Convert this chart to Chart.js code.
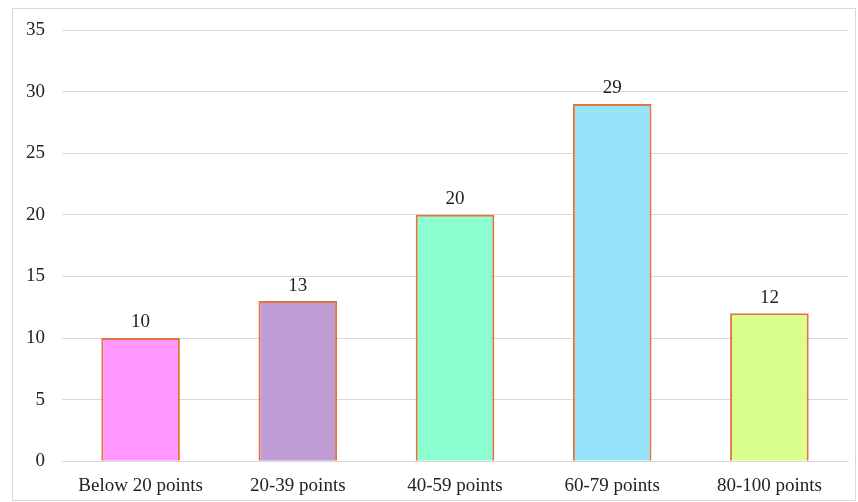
<!DOCTYPE html>
<html>
<head>
<meta charset="utf-8">
<script src="https://cdn.jsdelivr.net/npm/chart.js@4"></script>
<style>
  body { margin: 0; background: #fff; }
  #box { position: absolute; left: 12px; top: 8px; width: 842px; height: 491px; border: 1px solid #d9d9d9; }
</style>
</head>
<body>
<div id="box"><canvas id="scoreChart"></canvas></div>
<script>
var categories = ['Below 20 points', '20-39 points', '40-59 points', '60-79 points', '80-100 points'];
var counts = [10, 13, 20, 29, 12];
var yTicks = [0, 5, 10, 15, 20, 25, 30, 35];

var fillColors = ['rgba(255,140,255,0.9)', 'rgba(183,148,207,0.9)', 'rgba(128,255,204,0.9)', 'rgba(140,224,250,0.9)', 'rgba(214,255,128,0.9)'];

// draws the value above each bar
var valueLabels = {
  id: 'valueLabels',
  afterDatasetsDraw: function(chart){
    var ctx = chart.ctx;
    var meta = chart.getDatasetMeta(0);
    ctx.save();
    ctx.font = '19px "Liberation Serif"';
    ctx.fillStyle = '#222';
    ctx.textAlign = 'center';
    ctx.textBaseline = 'bottom';
    meta.data.forEach(function(bar, i){
      ctx.fillText(counts[i], bar.x, bar.y - 6);
    });
    ctx.restore();
  }
};

new Chart(document.getElementById('scoreChart'), {
  type: 'bar',
  data: {
    labels: categories,
    datasets: [{
      data: counts,
      backgroundColor: fillColors,
      borderColor: '#e3753a',
      borderWidth: 2,
      barPercentage: 0.5,
      categoryPercentage: 1
    }]
  },
  options: {
    responsive: true,
    maintainAspectRatio: false,
    animation: false,
    layout: { padding: { left: -4, right: 7, top: 21, bottom: -10 } },
    plugins: {
      legend: { display: false },
      tooltip: { enabled: false }
    },
    scales: {
      x: {
        grid: { display: false, drawTicks: false },
        border: { color: '#d9d9d9' },
        ticks: { color: '#222', font: { family: 'Liberation Serif', size: 19 }, padding: 13 }
      },
      y: {
        min: 0,
        max: 35,
        afterBuildTicks: function(axis){ axis.ticks = yTicks.map(function(v){ return {value: v}; }); },
        afterFit: function(axis){ axis.paddingTop = 0; },
        grid: { color: '#d9d9d9', drawTicks: false },
        border: { display: false },
        ticks: { color: '#222', font: { family: 'Liberation Serif', size: 19 }, padding: 17 }
      }
    }
  },
  plugins: [valueLabels]
});
</script>
</body>
</html>
